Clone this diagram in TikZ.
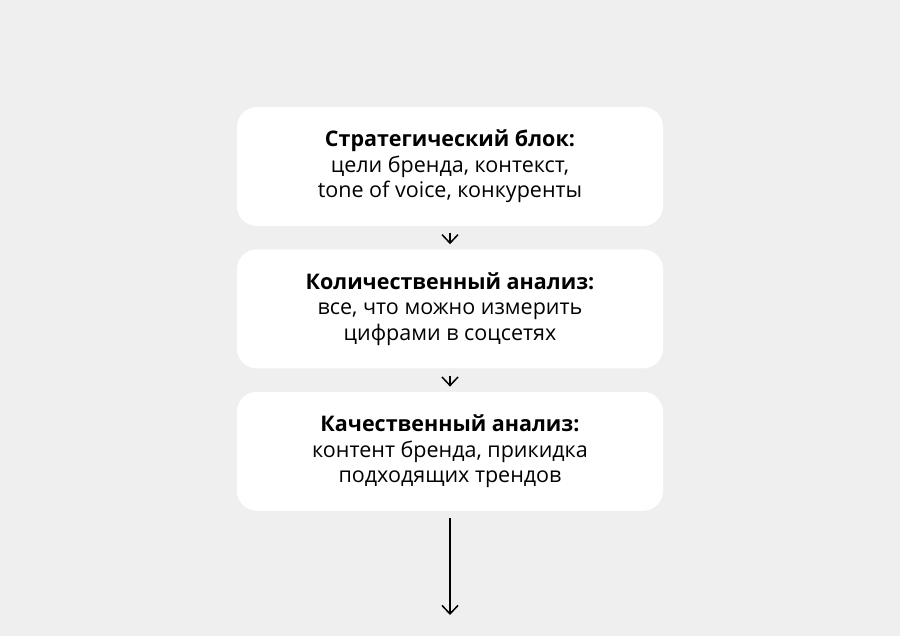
\documentclass[tikz,border=0pt]{standalone}
\usepackage{fontspec}
\setmainfont{Open Sans}
\usepackage{xcolor}
\usetikzlibrary{arrows.meta,positioning}
\definecolor{pagegray}{HTML}{EFEFEF}
\tikzset{
	stagebox/.style={
			fill=white, draw=none, rounded corners=20pt,
			minimum width=426pt, minimum height=119pt,
			align=center, font=\fontsize{21.5}{25.5}\selectfont
		},
	flowarrow/.style={
			-{Straight Barb[length=8.5pt,width=16pt]}, line width=1.5pt,
			shorten <=7pt, shorten >=5pt
		}
}

\begin{document}
\begin{tikzpicture}[x=1pt, y=-1pt, node distance=23pt]
			% Background and page size
			\fill[pagegray] (0,0) rectangle (900,636);
			\useasboundingbox (0,0) rectangle (900,636);

			% The three stages
			\node[stagebox] (strat) at (450,166.5) {\textbf{Стратегический блок:}\\ цели бренда, контекст,\\ tone of voice, конкуренты};
			\node[stagebox, below=of strat] (quant) {\textbf{Количественный анализ:}\\ все, что можно измерить\\ цифрами в соцсетях};
			\node[stagebox, below=of quant] (qual) {\textbf{Качественный анализ:}\\ контент бренда, прикидка\\ подходящих трендов};
			\coordinate (next) at (450,615);

			% Connectors
			\draw[flowarrow] (strat) -- (quant);
			\draw[flowarrow] (quant) -- (qual);
			\draw[flowarrow, shorten >=0pt] (qual) -- (next);
		\end{tikzpicture}
\end{document}
